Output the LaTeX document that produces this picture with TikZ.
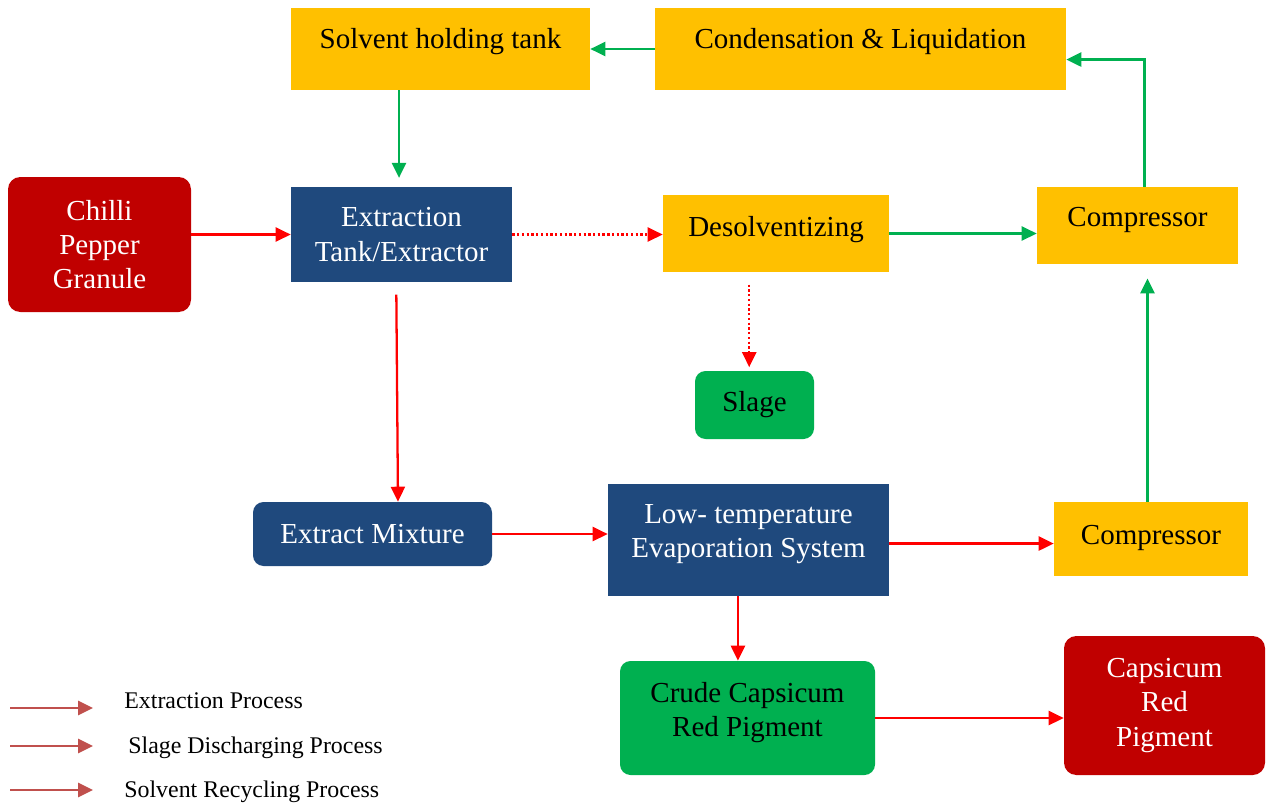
\documentclass[tikz,border=0pt]{standalone}
\usepackage{fontspec}
\setmainfont{Liberation Serif}
\usetikzlibrary{arrows.meta}
\definecolor{boxyellow}{HTML}{FFC000}
\definecolor{boxnavy}{HTML}{1F497D}
\definecolor{boxgreen}{HTML}{00B050}
\definecolor{boxred}{HTML}{C00000}
\definecolor{legred}{HTML}{C0504D}
\newdimen\pxu \pxu=0.02cm
\tikzset{
  flowbox/.style={inner sep=0pt,align=center,font=\fontsize{16.5}{19.5}\selectfont},
  yellowbox/.style={flowbox,fill=boxyellow,text=black},
  navybox/.style={flowbox,fill=boxnavy,text=white},
  greenbox/.style={flowbox,fill=boxgreen,text=black,rounded corners=6pt},
  redbox/.style={flowbox,fill=boxred,text=white,rounded corners=7pt},
  boxsize/.style 2 args={minimum width=#1*\pxu,minimum height=#2*\pxu},
  liftup/.style={text depth=#1},
  redarrow/.style={draw=red,line width=1.3pt,-{Triangle[length=8.5pt,width=8pt]}},
  dotarrow/.style={redarrow,dash pattern=on 1.3pt off 1.4pt},
  greenarrow/.style={draw=boxgreen,line width=1.3pt,-{Triangle[length=8.5pt,width=8pt]}},
  legarrow/.style={draw=legred,line width=1.4pt,-{Triangle[length=8.5pt,width=8pt]}}
}
\begin{document}
\begin{tikzpicture}[x=0.02cm,y=-0.02cm]
\useasboundingbox (0,0) rectangle (1267,805);
% boxes
\node[yellowbox,boxsize={299}{82},liftup=11.5pt] (solvent) at (440.5,49) {Solvent holding tank};
\node[yellowbox,boxsize={411}{82},liftup=11.5pt] (condense) at (860.5,49) {Condensation \& Liquidation};
\node[redbox,boxsize={183}{135}] (chilli) at (99.5,244.5) {Chilli\\Pepper\\Granule};
\node[navybox,boxsize={221}{95}] (extractor) at (401.5,234.5) {Extraction\\Tank/Extractor};
\node[yellowbox,boxsize={226}{77},liftup=8.5pt] (desolv) at (776,233.5) {Desolventizing};
\node[yellowbox,boxsize={201}{77},liftup=9.5pt] (comptop) at (1137.5,225.5) {Compressor};
\node[greenbox,boxsize={119}{68}] (slage) at (754.5,405) {Slage};
\node[navybox,rounded corners=6pt,boxsize={239}{64}] (mixture) at (372.5,534) {Extract Mixture};
\node[navybox,boxsize={281}{112},liftup=10pt] (evap) at (748.5,540) {Low- temperature\\Evaporation System};
\node[yellowbox,boxsize={194}{74},liftup=5pt] (compbot) at (1151,539) {Compressor};
\node[greenbox,boxsize={255}{114},liftup=9.5pt] (crude) at (747.5,718) {Crude Capsicum\\Red Pigment};
\node[redbox,boxsize={201}{139}] (capsicum) at (1164.5,705.5) {Capsicum\\Red\\Pigment};
% connectors
\draw[greenarrow] (condense.west) -- (solvent.east);
\draw[greenarrow,shorten >=5pt] (solvent.south -| 399,0) -- (extractor.north -| 399,0);
\draw[redarrow] (chilli.east |- extractor.west) -- (extractor.west);
\draw[dotarrow] (extractor.east) -- (extractor.east -| desolv.west);
\draw[dotarrow,shorten <=7pt,shorten >=2pt] ([xshift=-3pt]desolv.south -| slage.north) -- ([xshift=-3pt]slage.north);
\draw[greenarrow] (desolv.east) -- (desolv.east -| comptop.west);
\draw[greenarrow] ([xshift=4pt]comptop.north) |- ([yshift=-6pt]condense.east);
\draw[greenarrow,shorten >=8pt] ([xshift=-2pt]compbot.north) -- ([xshift=-2pt]compbot.north |- comptop.south);
\draw[redarrow,shorten <=7pt] ([xshift=-3pt]extractor.south) -- ([xshift=-2pt]extractor.south |- mixture.north);
\draw[redarrow] (mixture.east) -- (mixture.east -| evap.west);
\draw[redarrow] ([yshift=-2pt]evap.east) -- ([yshift=-2pt]evap.east -| compbot.west);
\draw[redarrow] ([xshift=-6pt]evap.south) -- ([xshift=-6pt]evap.south |- crude.north);
\draw[redarrow] (crude.east) -- (crude.east -| capsicum.west);
% legend
\foreach \ly/\ty/\lx/\ltext [count=\i] in {708/701/124/Extraction Process,746/748/128/Slage Discharging Process,790/792/124/Solvent Recycling Process}{
  \node[anchor=west,inner sep=0pt,font=\fontsize{13.6}{16}\selectfont] (leg\i) at (\lx,\ty) {\ltext};
  \coordinate (legs\i) at (10,\ly);
  \coordinate (lege\i) at (93,\ly);
  \draw[legarrow] (legs\i) -- (lege\i);
}
\end{tikzpicture}
\end{document}
